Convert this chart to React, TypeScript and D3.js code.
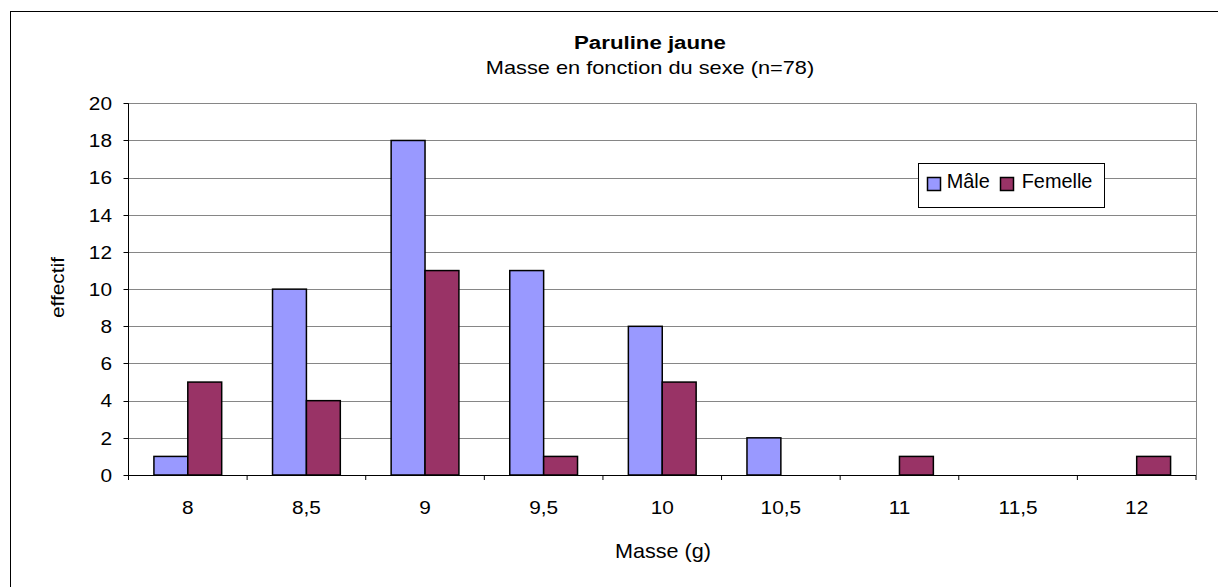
import React from "react";
import * as d3 from "d3";

const categories = ["8", "8,5", "9", "9,5", "10", "10,5", "11", "11,5", "12"];
const maleValues = [1, 10, 18, 11, 8, 2, 0, 0, 0];
const femaleValues = [5, 4, 11, 1, 5, 0, 1, 0, 1];
const seriesNames = ["Mâle", "Femelle"];
const yTicks = [0, 2, 4, 6, 8, 10, 12, 14, 16, 18, 20];

const W = 1218, H = 587;
const left = 128.5, right = 1196, top = 103.3, bottom = 475;
const colors = ["#9999FF", "#993366"];
const font = "'Liberation Sans', Arial, sans-serif";

function T(props: { x: number; y: number; size: number; sx?: number; anchor?: string; weight?: string; children: React.ReactNode; dy?: string }) {
  const { x, y, size, sx = 1, anchor = "start", weight = "normal", children, dy } = props;
  return (
    <text transform={`translate(${x},${y}) scale(${sx},1)`} textAnchor={anchor} fontSize={size} fontWeight={weight} dy={dy} fill="#000">
      {children}
    </text>
  );
}

export default function App() {
  const x = d3.scaleBand<string>().domain(categories).range([left, right]).padding(0);
  const y = d3.scaleLinear().domain([0, 20]).range([bottom, top]);
  const bw = x.bandwidth() / 3.5;
  const series = [maleValues, femaleValues];
  return (
    <svg width={W} height={H} style={{ position: "absolute", left: 0, top: 0 }} fontFamily={font}>
      <rect x={0} y={0} width={W} height={H} fill="#fff" />
      <rect x={10.5} y={11.5} width={1300} height={700} fill="#fff" stroke="#000" strokeWidth={1} />
      {yTicks.map((t) => (
        <line key={"g" + t} x1={left} x2={right} y1={Math.round(y(t)) + 0.5} y2={Math.round(y(t)) + 0.5} stroke="#868686" strokeWidth={1} />
      ))}
      <line x1={right + 0.5} x2={right + 0.5} y1={y(20)} y2={bottom} stroke="#868686" />
      {series.map((vals, si) =>
        vals.map((v, i) => {
          const cx = x(categories[i])! + x.bandwidth() / 2;
          const x0 = cx - bw + si * bw;
          return v > 0 ? (
            <rect key={si + "-" + i} x={x0} y={y(v)} width={bw} height={y(0) - y(v)} fill={colors[si]} stroke="#000" strokeWidth={1.5} />
          ) : null;
        })
      )}
      <line x1={left} x2={left} y1={top} y2={bottom} stroke="#000" />
      <line x1={left - 4} x2={right} y1={Math.round(bottom) + 0.5} y2={Math.round(bottom) + 0.5} stroke="#000" />
      {yTicks.map((t) => (
        <g key={"t" + t}>
          <line x1={left - 5} x2={left} y1={Math.round(y(t)) + 0.5} y2={Math.round(y(t)) + 0.5} stroke="#000" />
          <T x={112} y={y(t)} size={18.6} sx={1.12} anchor="end" dy="0.36em">{t}</T>
        </g>
      ))}
      {categories.map((c, i) => (
        <line key={"xt" + i} x1={x(c)!} x2={x(c)!} y1={bottom} y2={bottom + 5} stroke="#000" />
      ))}
      <line x1={right} x2={right} y1={bottom} y2={bottom + 5} stroke="#000" />
      {categories.map((c) => (
        <T key={"xl" + c} x={x(c)! + x.bandwidth() / 2} y={514} size={18.6} sx={1.12} anchor="middle">{c}</T>
      ))}
      <T x={650} y={49.3} size={17.8} sx={1.25} anchor="middle" weight="bold">Paruline jaune</T>
      <T x={650} y={73.5} size={18.6} sx={1.17} anchor="middle">Masse en fonction du sexe (n=78)</T>
      <T x={663} y={557.7} size={20} sx={1.08} anchor="middle">Masse (g)</T>
      <text transform={`translate(63.5,287.5) rotate(-90) scale(1.12,1)`} textAnchor="middle" fontSize={18.6}>effectif</text>
      <rect x={918.5} y={163.5} width={186} height={44} fill="#fff" stroke="#000" />
      {seriesNames.map((n, i) => {
        const sx = i === 0 ? 927.5 : 1000.5;
        const tx = i === 0 ? 946.7 : 1021.7;
        return (
          <g key={n}>
            <rect x={sx} y={177.5} width={13} height={13} fill={colors[i]} stroke="#000" strokeWidth={1.5} />
            <T x={tx} y={187.7} size={19.5} sx={1.02}>{n}</T>
          </g>
        );
      })}
    </svg>
  );
}
